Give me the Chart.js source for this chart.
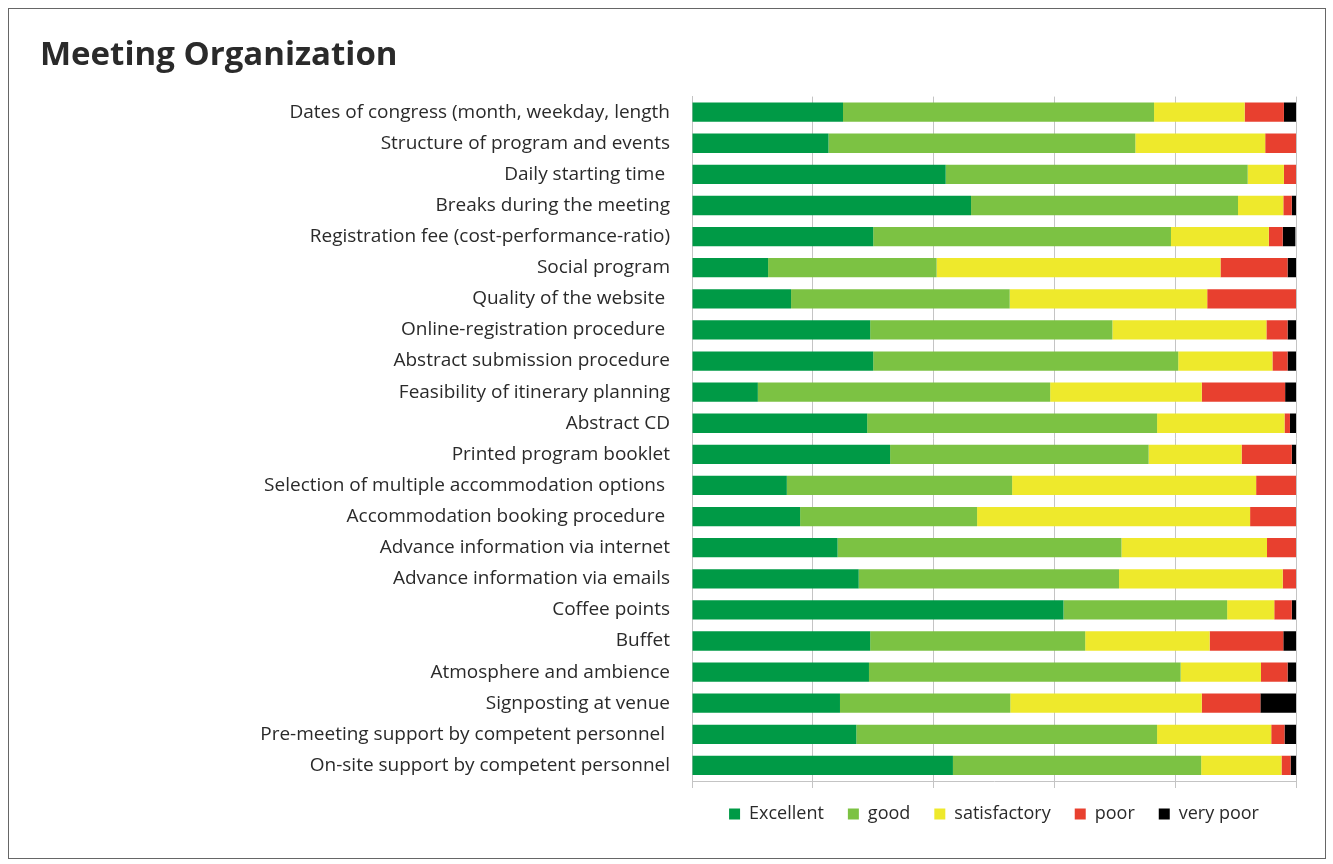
<!DOCTYPE html>
<html>
<head>
<meta charset="utf-8">
<script src="https://cdn.jsdelivr.net/npm/chart.js@4.4.0/dist/chart.umd.min.js"></script>
<style>
  body { margin: 0; background: #fff; }
  #wrap { position: relative; width: 1333px; height: 864px; }
  #frame { position: absolute; left: 8px; top: 8px; width: 1316px; height: 849px; border: 1px solid #666; pointer-events: none; }
</style>
</head>
<body>
<div id="wrap">
  <canvas id="myChart" width="1333" height="864"></canvas>
  <div id="frame"></div>
</div>
<script>
const categories = [
    'Dates of congress (month, weekday, length',
    'Structure of program and events',
    'Daily starting time ',
    'Breaks during the meeting',
    'Registration fee (cost-performance-ratio)',
    'Social program',
    'Quality of the website ',
    'Online-registration procedure ',
    'Abstract submission procedure',
    'Feasibility of itinerary planning',
    'Abstract CD',
    'Printed program booklet',
    'Selection of multiple accommodation options ',
    'Accommodation booking procedure ',
    'Advance information via internet',
    'Advance information via emails',
    'Coffee points',
    'Buffet',
    'Atmosphere and ambience',
    'Signposting at venue',
    'Pre-meeting support by competent personnel ',
    'On-site support by competent personnel'
];

// percent of answers per rating
const excellent    = [25.0, 22.6, 42.0, 46.2, 30.0, 12.6, 16.4, 29.5, 30.0, 10.9, 29.0, 32.8, 15.7, 17.9, 24.1, 27.6, 61.5, 29.5, 29.3, 24.5, 27.2, 43.2];
const good         = [51.5, 50.8, 50.0, 44.2, 49.3, 27.9, 36.2, 40.1, 50.5, 48.4, 48.0, 42.8, 37.3, 29.3, 47.0, 43.1, 27.1, 35.6, 51.6, 28.2, 49.8, 41.1];
const satisfactory = [15.0, 21.5,  6.0,  7.5, 16.2, 47.0, 32.7, 25.5, 15.6, 25.1, 21.1, 15.4, 40.4, 45.2, 24.1, 27.1,  7.8, 20.6, 13.3, 31.7, 18.9, 13.3];
const poor         = [ 6.5,  5.1,  2.0,  1.4,  2.3, 11.1, 14.7,  3.5,  2.5, 13.8,  0.9,  8.3,  6.6,  7.6,  4.8,  2.2,  2.9, 12.2,  4.4,  9.7,  2.2,  1.5];
const veryPoor     = [ 2.0,  0.0,  0.0,  0.7,  2.1,  1.4,  0.0,  1.4,  1.4,  1.8,  1.0,  0.7,  0.0,  0.0,  0.0,  0.0,  0.7,  2.1,  1.4,  5.9,  1.9,  0.9];

const seriesNames = ['Excellent', 'good', 'satisfactory', 'poor', 'very poor'];
const seriesData = [excellent, good, satisfactory, poor, veryPoor];
const seriesColors = ['#009a46', '#7cc243', '#eee92c', '#e8402f', '#000000'];

const ctx = document.getElementById('myChart').getContext('2d');
const FONT = '"Open Sans", Lato, sans-serif';

const myChart = new Chart(ctx, {
    type: 'bar',
    data: {
        labels: categories,
        datasets: seriesNames.map((name, i) => ({
            label: name,
            data: seriesData[i],
            backgroundColor: seriesColors[i],
            borderWidth: 0,
            categoryPercentage: 1,
            barPercentage: 0.62
        }))
    },
    options: {
        indexAxis: 'y',
        responsive: false,
        animation: false,
        layout: { padding: { left: 40, right: 37, top: 36, bottom: 31 } },
        scales: {
            x: {
                stacked: true,
                min: 0,
                max: 100,
                ticks: { display: false, stepSize: 20 },
                grid: { color: '#c4c4c4', tickLength: 7, drawTicks: true },
                border: { display: true, color: '#c4c4c4' },
                afterFit: scale => { scale.height = Math.max(0, scale.height - 13); }
            },
            y: {
                stacked: true,
                grid: { display: false, drawTicks: false },
                border: { display: true, color: '#c4c4c4' },
                ticks: {
                    color: '#2a2a2a',
                    padding: 22,
                    font: { family: FONT, size: 19 }
                },
                afterFit: scale => { scale.width = 652; }
            }
        },
        plugins: {
            title: {
                display: true,
                text: 'Meeting Organization',
                align: 'start',
                color: '#2a2a2a',
                font: { family: FONT, size: 33, weight: 'bold' },
                padding: { top: 0, bottom: 21 }
            },
            legend: {
                position: 'bottom',
                fullSize: false,
                labels: {
                    color: '#2a2a2a',
                    boxWidth: 11,
                    boxHeight: 11,
                    padding: 24,
                    font: { family: FONT, size: 18 }
                }
            },
            tooltip: { enabled: false }
        }
    }
});
</script>
</body>
</html>
